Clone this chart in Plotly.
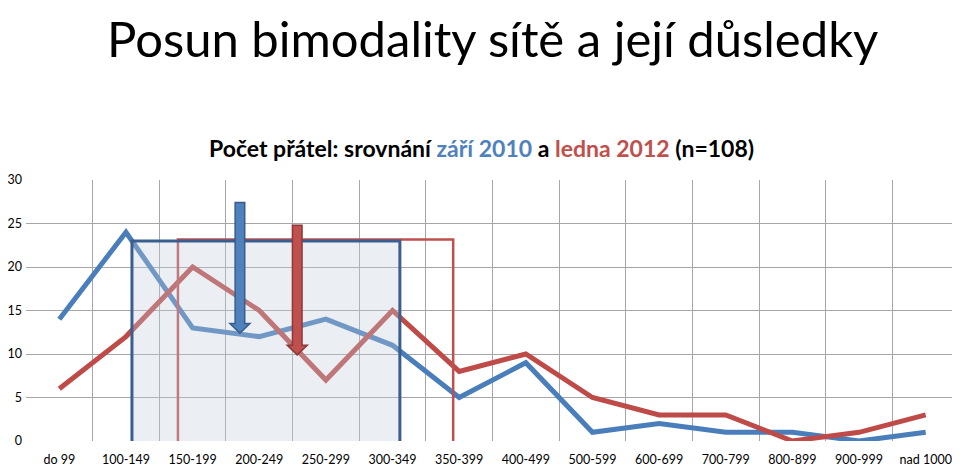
import plotly.graph_objects as go

categories = ["do 99", "100-149", "150-199", "200-249", "250-299", "300-349", "350-399",
              "400-499", "500-599", "600-699", "700-799", "800-899", "900-999", "nad 1000"]
sep2010 = [14, 24, 13, 12, 14, 11, 5, 9, 1, 2, 1, 1, 0, 1]
jan2012 = [6, 12, 20, 15, 7, 15, 8, 10, 5, 3, 3, 0, 1, 3]
y_ticks = [0, 5, 10, 15, 20, 25, 30]

BLUE = "#4a7ebb"
RED = "#be4b48"

# rectangle/arrow placement (category index units / value units)
blue_box = dict(x0=1.09, x1=5.11, y0=-0.2, y1=23.0)
red_box = dict(x0=1.78, x1=5.91, y0=-0.2, y1=23.15)
blue_arrow = dict(x=2.71, y_top=27.4, y_tip=12.4, fill="#4f81bd", edge="#385d8a")
red_arrow = dict(x=3.57, y_top=24.8, y_tip=9.9, fill="#c0504d", edge="#8c3836")
SHAFT_HALF = 0.072   # category units
HEAD_HALF = 0.15
HEAD_LEN = 1.1       # value units

xs = list(range(len(categories)))

fig = go.Figure()
fig.add_trace(go.Scatter(x=xs, y=sep2010, mode="lines", line=dict(color=BLUE, width=5),
                         hoverinfo="skip", showlegend=False))
fig.add_trace(go.Scatter(x=xs, y=jan2012, mode="lines", line=dict(color=RED, width=5),
                         hoverinfo="skip", showlegend=False))

fig.add_shape(type="rect", xref="x", yref="y", layer="above",
              fillcolor="rgba(0,0,0,0)", line=dict(color="#c0504d", width=2.5), **red_box)
fig.add_shape(type="rect", xref="x", yref="y", layer="above",
              fillcolor="rgba(195,205,218,0.33)", line=dict(color="#3b5e91", width=3), **blue_box)


def arrow_path(a):
    x, t, b = a["x"], a["y_top"], a["y_tip"]
    hb = b + HEAD_LEN
    pts = [(x - SHAFT_HALF, t), (x + SHAFT_HALF, t), (x + SHAFT_HALF, hb), (x + HEAD_HALF, hb),
           (x, b), (x - HEAD_HALF, hb), (x - SHAFT_HALF, hb)]
    return "M " + " L ".join(f"{px:.4f},{py:.4f}" for px, py in pts) + " Z"


for a in (blue_arrow, red_arrow):
    fig.add_shape(type="path", path=arrow_path(a), xref="x", yref="y", layer="above",
                  fillcolor=a["fill"], line=dict(color=a["edge"], width=1.5))

fig.add_annotation(text="Posun bimodality sítě a její důsledky", xref="paper", yref="paper",
                   x=0.5, y=1, xanchor="center", yanchor="top", showarrow=False, borderpad=0,
                   font=dict(family="Lato", size=49, color="#000000"),
                   yshift=172)
fig.add_annotation(text="<b>Počet přátel: srovnání <span style='color:#4f81bd'>září 2010</span> a "
                        "<span style='color:#c0504d'>ledna 2012</span> (n=108)</b>",
                   xref="paper", yref="paper", x=0.4877, y=1, xanchor="center", yanchor="bottom",
                   showarrow=False, font=dict(family="Lato", size=23, color="#000000"),
                   yshift=16)

fig.update_layout(
    width=952, height=459,
    margin=dict(l=18, r=1, t=172, b=26, autoexpand=False),
    plot_bgcolor="#ffffff", paper_bgcolor="#ffffff",
    font=dict(family="Lato", size=12.5, color="#000000"),
    showlegend=False,
)
fig.update_xaxes(range=[-0.5, len(categories) - 0.5], tickvals=xs, ticktext=categories,
                 showgrid=False, zeroline=False, ticks="", showline=False, automargin=False,
                 ticklabeloverflow="allow", ticklabelstandoff=9,
                 tickfont=dict(size=12.5),
                 minor=dict(tickvals=[i - 0.5 for i in range(len(categories) + 1)],
                            showgrid=True, gridcolor="#a6a6a6", gridwidth=1, ticks=""))
fig.update_yaxes(range=[0, 30], tickvals=y_ticks, showgrid=True, gridcolor="#a6a6a6",
                 gridwidth=1, zeroline=False, showline=False, ticks="", ticklabelstandoff=3,
                 automargin=False, ticklabeloverflow="allow",
                 tickfont=dict(size=12.5))

fig.write_html("out.html")
